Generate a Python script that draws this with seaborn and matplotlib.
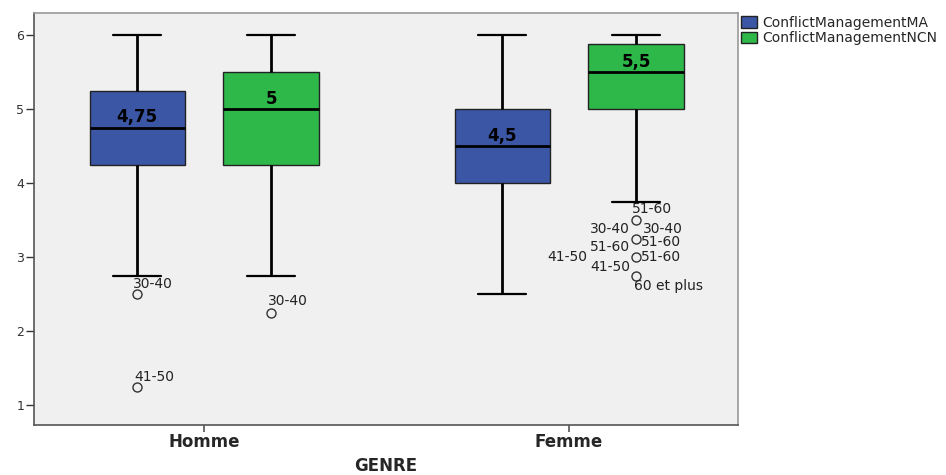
import matplotlib
matplotlib.use("Agg")
import matplotlib.pyplot as plt
import pandas as pd
import seaborn as sns

# Box summaries, order: (Homme, MA), (Homme, NCN), (Femme, MA), (Femme, NCN)
genres = ["Homme", "Homme", "Femme", "Femme"]
variables = ["ConflictManagementMA", "ConflictManagementNCN",
             "ConflictManagementMA", "ConflictManagementNCN"]
q1 = [4.25, 4.25, 4.0, 5.0]
medians = [4.75, 5.0, 4.5, 5.5]
q3 = [5.25, 5.5, 5.0, 5.875]
whisker_lo = [2.75, 2.75, 2.5, 3.75]
whisker_hi = [6.0, 6.0, 6.0, 6.0]
outliers = [[2.5, 1.25], [2.25], [], [3.5, 3.25, 3.0, 2.75]]

# outlier labels (age group) per box: (value, label)
outlier_labels = [
    [(2.5, "30-40"), (1.25, "41-50")],
    [(2.25, "30-40")],
    [],
    [(3.5, "51-60"), (3.25, "30-40"), (3.25, "30-40"), (3.25, "51-60"),
     (3.0, "51-60"), (3.0, "41-50"), (3.0, "51-60"), (2.75, "41-50"),
     (2.75, "60 et plus")],
]
# label placement around the point, in pixels (dx, dy, ha)
label_offsets = [
    [(-4, 10, "left"), (-3, 10, "left")],
    [(-3, 12, "left")],
    [],
    [(-4, 11, "left"), (-6, 10, "right"), (7, 10, "left"), (5, -3, "left"),
     (-6, 10, "right"), (-49, 0, "right"), (5, 0, "left"), (-6, 9, "right"),
     (-2, -10, "left")],
]

genre_order = ["Homme", "Femme"]
var_order = ["ConflictManagementMA", "ConflictManagementNCN"]
colors = ["#3C56A6", "#2EB84A"]

# rebuild a sample per box that gives exactly the read quartiles/whiskers
rows = []
for i in range(len(genres)):
    outs = outliers[i]
    sample = (outs + [whisker_lo[i]] * (10 - len(outs)) + [q1[i]] * 10
              + [medians[i]] * 10 + [q3[i]] * 10 + [whisker_hi[i]])
    for v in sample:
        rows.append({"GENRE": genres[i], "variable": variables[i], "score": v})
df = pd.DataFrame(rows)

sns.set_theme(style="ticks")
plt.rcParams["font.family"] = ["DejaVu Sans"]

fig = plt.figure(figsize=(9.46, 4.75), dpi=100)
ax = fig.add_axes([34 / 946, 1 - 425 / 475, (738 - 34) / 946, (425 - 13) / 475])
ax.set_facecolor("#F0F0F0")

total_width = 0.734
sns.boxplot(data=df, x="GENRE", y="score", hue="variable",
            order=genre_order, hue_order=var_order, palette=colors,
            saturation=1, width=total_width, gap=0.29, whis=1.5,
            linecolor="#222222", linewidth=1.0, ax=ax,
            medianprops=dict(color="black", linewidth=2.0),
            whiskerprops=dict(color="black", linewidth=2.0),
            capprops=dict(color="black", linewidth=1.6),
            flierprops=dict(marker="o", markerfacecolor="none",
                            markeredgecolor="#333333", markersize=6.5,
                            markeredgewidth=1.0))

ax.set_xlim(-0.466, 1.463)
ax.set_ylim(0.73, 6.3)
ax.set_yticks([1, 2, 3, 4, 5, 6])

offset = total_width / 4
for i in range(len(genres)):
    x = genre_order.index(genres[i]) + (-offset if variables[i] == var_order[0] else offset)
    txt = f"{medians[i]:g}".replace(".", ",")
    ax.annotate(txt, xy=(x, medians[i]), xytext=(0, 1), textcoords="offset points",
                ha="center", va="bottom", fontsize=12, fontweight="bold", color="black")
    for (val, lab), (dx, dy, ha) in zip(outlier_labels[i], label_offsets[i]):
        ax.annotate(lab, xy=(x, val), xytext=(dx, dy), textcoords="offset pixels",
                    ha=ha, va="center", fontsize=10, color="#222222")

for side in ["left", "bottom", "top", "right"]:
    ax.spines[side].set_visible(True)
    ax.spines[side].set_color("#555555")
    ax.spines[side].set_linewidth(1.2)
ax.spines["top"].set_color("#999999")
ax.spines["right"].set_color("#999999")

ax.tick_params(axis="y", labelsize=9, length=6, width=1, color="#333333", pad=1,
               labelcolor="#333333")
ax.tick_params(axis="x", labelsize=12, length=5, width=1.2, color="#555555", pad=1)
for lab in ax.get_xticklabels():
    lab.set_fontweight("bold")
ax.set_ylabel("")
ax.set_xlabel("GENRE", fontsize=12, fontweight="bold", labelpad=4)

sns.move_legend(ax, "upper left", bbox_to_anchor=(1.0, 1.0), title=None,
                frameon=False, fontsize=10, handlelength=1.2, handleheight=0.9,
                handletextpad=0.35, borderpad=0.1, borderaxespad=0.1,
                labelspacing=0.1)

fig.savefig("out.png", dpi=100)
